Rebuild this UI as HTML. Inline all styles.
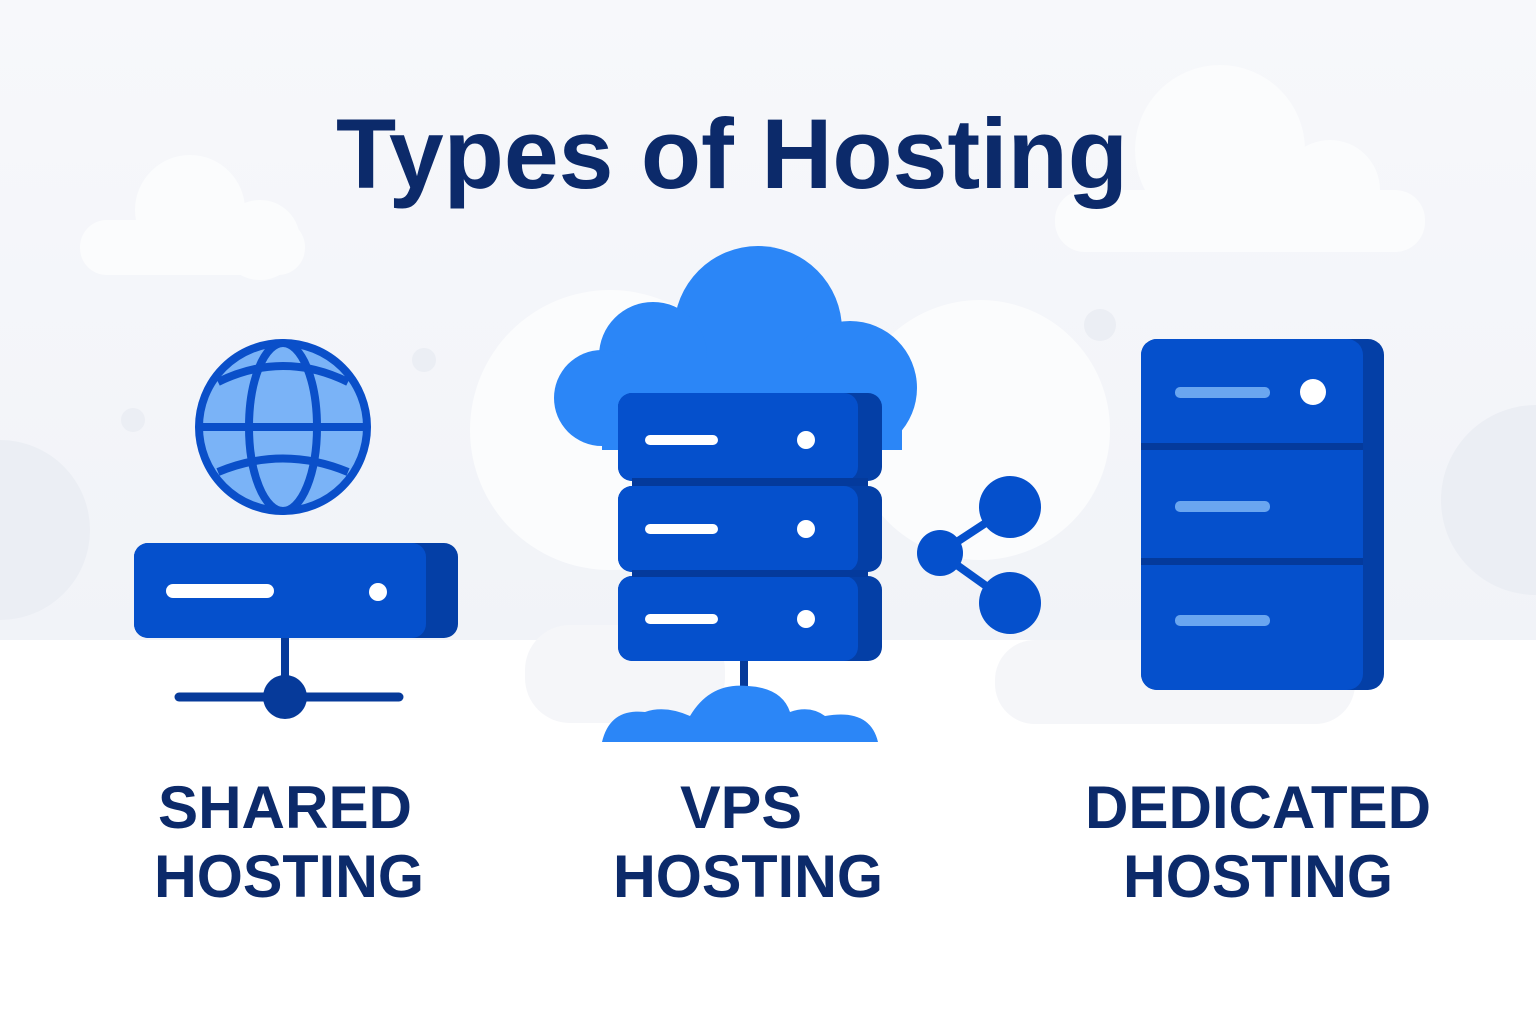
<!DOCTYPE html>
<html><head><style>
html,body{margin:0;padding:0;width:1536px;height:1024px;overflow:hidden;background:#fff}
</style></head><body>
<svg width="1536" height="1024" viewBox="0 0 1536 1024" xmlns="http://www.w3.org/2000/svg">
<defs><linearGradient id="bg" x1="0" y1="0" x2="0" y2="1"><stop offset="0" stop-color="#f7f8fb"/><stop offset="1" stop-color="#f1f3f8"/></linearGradient></defs>
<rect width="1536" height="640" fill="url(#bg)"/>
<g fill="#fbfcfd">
<circle cx="190" cy="210" r="55"/><circle cx="260" cy="240" r="40"/><rect x="80" y="220" width="225" height="55" rx="27"/>
<circle cx="1220" cy="150" r="85"/><circle cx="1330" cy="190" r="50"/><rect x="1055" y="190" width="370" height="62" rx="30"/>
<circle cx="610" cy="430" r="140"/><circle cx="980" cy="430" r="130"/>
</g>
<g fill="#ebeef4">
<circle cx="0" cy="530" r="90"/><circle cx="1536" cy="500" r="95"/>
<circle cx="424" cy="360" r="12"/><circle cx="133" cy="420" r="12"/><circle cx="1100" cy="325" r="16"/>
</g>
<g fill="#f5f6f9"><rect x="525" y="625" width="200" height="98" rx="45"/><rect x="995" y="640" width="360" height="84" rx="40"/></g>
<text x="732" y="188" text-anchor="middle" font-family="Liberation Sans, sans-serif" font-weight="bold" font-size="99" fill="#0c2a6a" textLength="792" lengthAdjust="spacingAndGlyphs">Types of Hosting</text>
<!-- shared -->
<circle cx="283" cy="427" r="84" fill="#7ab3f7" stroke="#0a4fc9" stroke-width="8"/>
<g fill="none" stroke="#0a4fc9" stroke-width="8">
<ellipse cx="283" cy="427" rx="34" ry="84"/>
<line x1="199" y1="427" x2="367" y2="427"/>
<path d="M218 382 Q283 350 348 382"/><path d="M218 472 Q283 445 348 472"/>
</g>
<rect x="134" y="543" width="324" height="95" rx="14" fill="#043fa6"/>
<rect x="134" y="543" width="292" height="95" rx="14" fill="#0550cc"/>
<rect x="166" y="584" width="108" height="14" rx="7" fill="#fff"/>
<circle cx="378" cy="592" r="9" fill="#fff"/>
<line x1="285" y1="638" x2="285" y2="690" stroke="#063a9a" stroke-width="8"/>
<line x1="179" y1="697" x2="399" y2="697" stroke="#063a9a" stroke-width="9" stroke-linecap="round"/>
<circle cx="285" cy="697" r="22" fill="#063a9a"/>
<!-- VPS -->
<g fill="#2b86f7">
<circle cx="758" cy="330" r="84"/><circle cx="653" cy="356" r="54"/><circle cx="602" cy="398" r="48"/><circle cx="850" cy="388" r="67"/>
<rect x="602" y="360" width="300" height="90"/>
</g>
<rect x="618" y="393" width="264" height="88" rx="14" fill="#043fa6"/><rect x="618" y="393" width="240" height="88" rx="14" fill="#0550cc"/>
<rect x="618" y="486" width="264" height="86" rx="14" fill="#043fa6"/><rect x="618" y="486" width="240" height="86" rx="14" fill="#0550cc"/>
<rect x="618" y="576" width="264" height="85" rx="14" fill="#043fa6"/><rect x="618" y="576" width="240" height="85" rx="14" fill="#0550cc"/>
<rect x="632" y="478" width="236" height="8" fill="#043a9c"/><rect x="632" y="570" width="236" height="7" fill="#043a9c"/>
<g fill="#fff">
<rect x="645" y="435" width="73" height="10" rx="5"/><circle cx="806" cy="440" r="9"/>
<rect x="645" y="524" width="73" height="10" rx="5"/><circle cx="806" cy="529" r="9"/>
<rect x="645" y="614" width="73" height="10" rx="5"/><circle cx="806" cy="619" r="9"/>
</g>
<line x1="744" y1="661" x2="744" y2="692" stroke="#063a9a" stroke-width="8"/>
<path fill="#2b86f7" d="M602 742 Q610 708 645 712 Q665 705 690 716 Q710 682 748 686 Q782 688 790 712 Q810 705 825 716 Q870 708 878 742 Z"/>
<!-- share -->
<g stroke="#0550cc" stroke-width="8"><line x1="940" y1="553" x2="1010" y2="507"/><line x1="940" y1="553" x2="1010" y2="603"/></g>
<g fill="#0550cc"><circle cx="1010" cy="507" r="31"/><circle cx="940" cy="553" r="23"/><circle cx="1010" cy="603" r="31"/></g>
<!-- dedicated -->
<rect x="1141" y="339" width="243" height="351" rx="16" fill="#043fa6"/>
<rect x="1141" y="339" width="222" height="351" rx="16" fill="#0550cc"/>
<rect x="1141" y="443" width="222" height="7" fill="#043a9c"/>
<rect x="1141" y="558" width="222" height="7" fill="#043a9c"/>
<g fill="#6aa6f0">
<rect x="1175" y="387" width="95" height="11" rx="5"/><rect x="1175" y="501" width="95" height="11" rx="5"/><rect x="1175" y="615" width="95" height="11" rx="5"/>
</g>
<circle cx="1313" cy="392" r="13" fill="#fff"/>
<g font-family="Liberation Sans, sans-serif" font-weight="bold" font-size="60" fill="#0c2a6a" text-anchor="middle">
<text x="285" y="828" textLength="254" lengthAdjust="spacingAndGlyphs">SHARED</text><text x="289" y="897" textLength="270" lengthAdjust="spacingAndGlyphs">HOSTING</text>
<text x="741" y="828" textLength="122" lengthAdjust="spacingAndGlyphs">VPS</text><text x="748" y="897" textLength="270" lengthAdjust="spacingAndGlyphs">HOSTING</text>
<text x="1258" y="828" textLength="346" lengthAdjust="spacingAndGlyphs">DEDICATED</text><text x="1258" y="897" textLength="270" lengthAdjust="spacingAndGlyphs">HOSTING</text>
</g>
</svg>
</body></html>
